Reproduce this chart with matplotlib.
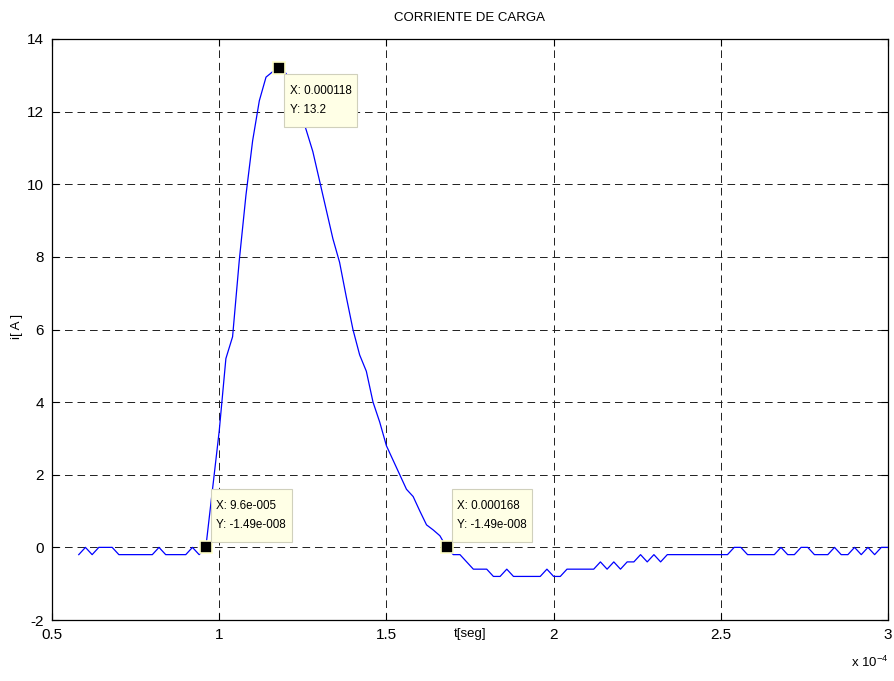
import numpy as np
import matplotlib
matplotlib.use("Agg")
import matplotlib.pyplot as plt
from matplotlib.path import Path
from matplotlib.ticker import FuncFormatter, FixedLocator

plt.rcParams['font.family'] = ['Liberation Sans', 'DejaVu Sans']
plt.rcParams['mathtext.fontset'] = 'custom'
plt.rcParams['mathtext.rm'] = 'Liberation Sans'
plt.rcParams['axes.unicode_minus'] = False
plt.rcParams['lines.scale_dashes'] = False

# ---- data ----
t_start = 0.58e-4      # s
dt = 0.02e-4           # s (sampling interval)
i_values = [
    -0.2, 0.0, -0.2, 0.0, 0.0, 0.0, -0.2, -0.2, -0.2, -0.2,      # 0.58 - 0.76
    -0.2, -0.2, 0.0, -0.2, -0.2, -0.2, -0.2, 0.0, -0.2, 0.0,     # 0.78 - 0.96
    1.6, 3.2, 5.2, 5.8, 7.9, 9.7, 11.2, 12.3, 12.95, 13.1,       # 0.98 - 1.16
    13.2, 13.05, 12.6, 12.05, 11.5, 10.9, 10.1, 9.3, 8.5, 7.85,  # 1.18 - 1.36
    6.9, 6.0, 5.3, 4.85, 4.0, 3.45, 2.8, 2.4, 2.0, 1.6,          # 1.38 - 1.56
    1.4, 1.0, 0.62, 0.48, 0.32, 0.0, -0.2, -0.2, -0.4, -0.6,     # 1.58 - 1.76
    -0.6, -0.6, -0.8, -0.8, -0.6, -0.8, -0.8, -0.8, -0.8, -0.8,  # 1.78 - 1.96
    -0.6, -0.8, -0.8, -0.6, -0.6, -0.6, -0.6, -0.6, -0.4, -0.6,  # 1.98 - 2.16
    -0.4, -0.6, -0.4, -0.4, -0.2, -0.4, -0.2, -0.4, -0.2, -0.2,  # 2.18 - 2.36
    -0.2, -0.2, -0.2, -0.2, -0.2, -0.2, -0.2, -0.2, 0.0, 0.0,    # 2.38 - 2.56
    -0.2, -0.2, -0.2, -0.2, -0.2, 0.0, -0.2, -0.2, 0.0, 0.0,     # 2.58 - 2.76
    -0.2, -0.2, -0.2, 0.0, -0.2, -0.2, 0.0, -0.2, 0.0, -0.2,     # 2.78 - 2.96
    0.0, 0.0,                                                     # 2.98 - 3.00
]
t = t_start + dt * np.arange(len(i_values))

# data tips
tip_x = [9.6e-5, 1.18e-4, 1.68e-4]
tip_y = [-1.49e-8, 13.2, -1.49e-8]
tip_labels = ["X: 9.6e-005\nY: -1.49e-008",
              "X: 0.000118\nY: 13.2",
              "X: 0.000168\nY: -1.49e-008"]
tip_va = ['bottom', 'top', 'bottom']

x_ticks = [0.5e-4, 1.0e-4, 1.5e-4, 2.0e-4, 2.5e-4, 3.0e-4]
y_ticks = [-2, 0, 2, 4, 6, 8, 10, 12, 14]

PADX, PADY = 5.5, 10.5   # pixels


def tipbox(x0, y0, width, height, mutation_size):
    x0 -= PADX
    y0 -= PADY
    w = width + 2 * PADX
    h = height + 2 * PADY
    return Path([(x0, y0), (x0 + w, y0), (x0 + w, y0 + h), (x0, y0 + h),
                 (x0, y0)], closed=True)


W, H = 895, 681
fig = plt.figure(figsize=(W / 100, H / 100), dpi=100)
ax = fig.add_axes([52 / W, 1 - 620 / H, (888 - 52) / W, (620 - 39) / H])

ax.plot(t, i_values, color='#0000FF', lw=0.9, zorder=3)
ax.set_xlim(0.5e-4, 3.0e-4)
ax.set_ylim(-2, 14)
ax.xaxis.set_major_locator(FixedLocator(x_ticks))
ax.yaxis.set_major_locator(FixedLocator(y_ticks))
ax.xaxis.set_major_formatter(FuncFormatter(lambda v, p: "%g" % round(v / 1e-4, 6)))
ax.yaxis.set_major_formatter(FuncFormatter(lambda v, p: "%g" % v))
ax.tick_params(direction='in', length=5, width=0.8, top=True, right=True,
               labelsize=11, pad=6, colors='black')
ax.grid(True, color='#202020', linestyle=(0, (5.5, 3.5)), linewidth=0.7)
for s in ax.spines.values():
    s.set_linewidth(0.9)
    s.set_color('black')

for x, y, lab, va in zip(tip_x, tip_y, tip_labels, tip_va):
    off = (5 + PADX, 5.5 + PADY) if va == 'bottom' else (5 + PADX, -(6 + PADY))
    ax.plot([x], [y], marker='s', ms=8, mfc='black', mec='#FFFFC8', mew=1.2,
            zorder=5, clip_on=False)
    ax.annotate(lab, xy=(x, y), xytext=off, textcoords='offset pixels',
                ha='left', va=va, fontsize=8.4, linespacing=1.85, zorder=6,
                bbox=dict(boxstyle=tipbox, fc='#FFFFE6', ec='#D0D0BC', lw=0.8))

fig.text(470 / W, 1 - 18 / H, "CORRIENTE DE CARGA", ha='center', va='center',
         fontsize=9.5)
fig.text(470 / W, 1 - 634 / H, "t[seg]", ha='center', va='center', fontsize=9.5)
fig.text(17 / W, 1 - 326 / H, "i[ A ]", ha='center', va='center',
         rotation=90, fontsize=9.5)
fig.text(888 / W, 1 - 662 / H, r"x 10$^{-4}$", ha='right', va='center',
         fontsize=9.5)

fig.savefig("out.png", dpi=100)
